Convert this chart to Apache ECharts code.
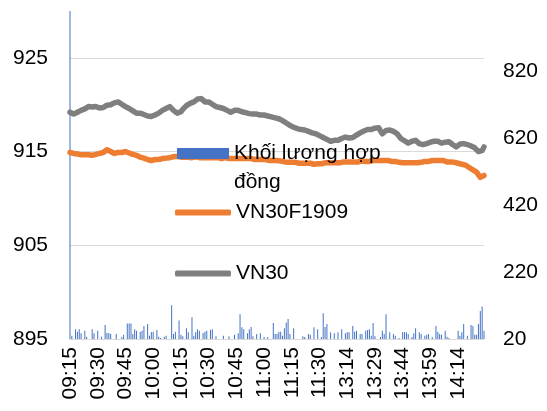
<!DOCTYPE html>
<html>
<head>
<meta charset="utf-8">
<script src="https://cdn.jsdelivr.net/npm/echarts@6/dist/echarts.min.js"></script>
<style>
  html, body { margin: 0; padding: 0; background: #fff; }
  #chart { width: 547px; height: 411px; }
</style>
</head>
<body>
<div id="chart"></div>
<script>
// trading sessions, one point per minute
const sessions = [['09:15', '11:30'], ['13:00', '14:28']]

const vn30 = [
  919.2, 919.1, 919.0, 919.05, 919.2, 919.3, 919.4, 919.6, 919.55, 919.7,
  919.8, 919.7, 919.75, 919.85, 919.8, 919.7, 919.65, 919.6, 919.7, 919.85,
  919.95, 920.05, 920.0, 920.1, 920.2, 920.15, 920.3, 920.2, 920.05, 919.9,
  919.8, 919.7, 919.6, 919.45, 919.35, 919.2, 919.1, 919.15, 919.1, 919.05,
  918.95, 918.85, 918.8, 918.7, 918.75, 918.85, 918.9, 919.0, 919.1, 919.25,
  919.4, 919.5, 919.6, 919.7, 919.8, 919.6, 919.4, 919.2, 919.1, 919.05,
  919.25, 919.5, 919.7, 919.9, 920.0, 920.15, 920.1, 920.3, 920.45, 920.6,
  920.8, 920.65, 920.5, 920.3, 920.4, 920.3, 920.2, 920.05, 919.95, 919.8,
  919.75, 919.7, 919.65, 919.6, 919.5, 919.4, 919.3, 919.2, 919.3, 919.4,
  919.5, 919.4, 919.35, 919.25, 919.2, 919.15, 919.1, 919.05, 919.05, 919.0,
  919.05, 919.0, 918.95, 918.9, 918.95, 918.9, 918.85, 918.8, 918.75, 918.7,
  918.65, 918.6, 918.6, 918.5, 918.4, 918.3, 918.2, 918.05, 917.9, 917.8,
  917.7, 917.6, 917.5, 917.45, 917.4, 917.35, 917.3, 917.3, 917.2, 917.15,
  917.1, 917.0, 916.95, 916.9, 916.85, 916.7, 916.6, 916.5, 916.4, 916.3,
  916.2, 916.1, 916.15, 916.2, 916.25, 916.2, 916.3, 916.4, 916.5, 916.55,
  916.5, 916.45, 916.4, 916.5, 916.6, 916.75, 916.9, 917.0, 917.1, 917.2,
  917.3, 917.35, 917.3, 917.35, 917.4, 917.5, 917.55, 917.55, 917.2, 916.9,
  917.1, 917.25, 917.35, 917.3, 917.2, 917.15, 917.1, 916.9, 916.65, 916.4,
  916.3, 916.15, 916.0, 915.9, 916.0, 916.1, 916.15, 916.2, 916.0, 915.85,
  915.7, 915.75, 915.8, 915.85, 915.9, 916.0, 916.05, 916.1, 916.2, 916.1,
  916.0, 915.9, 915.95, 916.0, 916.05, 916.05, 915.9, 915.75, 915.6, 915.5,
  915.65, 915.8, 915.9, 915.85, 915.8, 915.75, 915.7, 915.6, 915.5, 915.4,
  915.3, 915.0, 914.8, 915.1, 915.5
]

const vn30f1909 = [
  914.9, 914.85, 914.8, 914.75, 914.75, 914.7, 914.65, 914.7, 914.65, 914.6,
  914.65, 914.6, 914.6, 914.65, 914.7, 914.75, 914.8, 914.85, 914.9, 915.05,
  915.2, 915.3, 915.0, 914.85, 914.8, 914.85, 914.9, 914.95, 914.9, 914.95,
  915.0, 914.95, 914.85, 914.8, 914.7, 914.65, 914.6, 914.5, 914.4, 914.35,
  914.3, 914.2, 914.15, 914.1, 914.05, 914.1, 914.15, 914.1, 914.15, 914.2,
  914.25, 914.2, 914.3, 914.3, 914.35, 914.4, 914.45, 914.45, 914.5, 914.45,
  914.4, 914.45, 914.4, 914.35, 914.4, 914.4, 914.35, 914.4, 914.45, 914.4,
  914.35, 914.4, 914.35, 914.3, 914.35, 914.4, 914.35, 914.3, 914.35, 914.3,
  914.35, 914.3, 914.25, 914.3, 914.35, 914.3, 914.25, 914.3, 914.25, 914.3,
  914.25, 914.3, 914.25, 914.2, 914.25, 914.3, 914.25, 914.2, 914.25, 914.2,
  914.15, 914.2, 914.15, 914.1, 914.15, 914.1, 914.15, 914.1, 914.05, 914.1,
  914.05, 914.0, 914.05, 913.95, 914.0, 913.95, 913.9, 913.9, 913.85, 913.9,
  913.85, 913.8, 913.85, 913.8, 913.75, 913.8, 913.75, 913.7, 913.75, 913.7,
  913.75, 913.7, 913.65, 913.7, 913.7, 913.75, 913.7, 913.75, 913.8, 913.75,
  913.8, 913.75, 913.8, 913.85, 913.8, 913.85, 913.8, 913.85, 913.9, 913.85,
  913.9, 913.85, 913.9, 913.95, 913.9, 913.95, 913.9, 913.95, 914.0, 913.95,
  913.95, 914.0, 913.95, 914.0, 914.05, 914.0, 914.05, 914.1, 914.05, 914.0,
  914.05, 914.1, 914.05, 914.0, 913.95, 914.0, 913.95, 913.9, 913.85, 913.85,
  913.8, 913.85, 913.8, 913.75, 913.8, 913.75, 913.8, 913.85, 913.8, 913.8,
  913.85, 913.9, 913.95, 913.9, 913.95, 914.0, 914.05, 914.0, 914.05, 914.1,
  914.05, 914.0, 914.05, 913.95, 913.9, 913.95, 913.9, 913.9, 913.85, 913.8,
  913.75, 913.7, 913.65, 913.6, 913.55, 913.45, 913.3, 913.2, 913.05, 912.9,
  912.8, 912.6, 912.25, 912.3, 912.45
]

const volume = [
  1000, 30, 0, 49, 42, 49, 37, 0, 45, 27,
  0, 0, 49, 37, 0, 45, 0, 27, 0, 62,
  38, 38, 35, 0, 0, 35, 0, 0, 26, 33,
  0, 66, 66, 66, 35, 49, 45, 0, 42, 45,
  59, 0, 65, 30, 41, 42, 0, 47, 27, 23,
  0, 27, 30, 0, 0, 121, 35, 42, 0, 75,
  33, 28, 0, 52, 40, 0, 85, 30, 40, 49,
  45, 0, 38, 42, 45, 0, 47, 49, 0, 28,
  0, 0, 0, 30, 0, 0, 28, 0, 0, 33,
  0, 37, 94, 55, 49, 0, 37, 49, 56, 28,
  0, 35, 0, 37, 0, 26, 0, 26, 0, 0,
  68, 35, 35, 42, 42, 30, 52, 69, 80, 35,
  0, 52, 0, 0, 0, 0, 28, 26, 0, 35,
  33, 0, 55, 0, 49, 0, 26, 97, 56, 65,
  0, 40, 0, 37, 0, 40, 0, 49, 0, 37,
  40, 40, 0, 59, 42, 45, 0, 35, 35, 0,
  45, 47, 49, 30, 68, 28, 0, 0, 26, 45,
  35, 94, 0, 40, 0, 35, 30, 0, 23, 0,
  41, 40, 40, 35, 0, 26, 37, 52, 0, 40,
  35, 0, 30, 33, 35, 0, 26, 0, 59, 42,
  35, 33, 0, 45, 27, 23, 0, 0, 0, 0,
  45, 30, 40, 65, 0, 30, 0, 62, 59, 33,
  33, 65, 104, 117, 45
]

function toMin(s) {
  const p = s.split(':')
  return +p[0] * 60 + +p[1]
}

function pad(n) {
  return (n < 10 ? '0' : '') + n
}

let times = []
sessions.forEach(s => {
  for (let m = toMin(s[0]); m <= toMin(s[1]); m++) {
    times.push(pad(Math.floor(m / 60)) + ':' + pad(m % 60))
  }
})

const font = 'Liberation Sans'
const txt = {fontFamily: font, fontSize: 21, color: '#000'}

let mychart = echarts.init(document.getElementById('chart'), null, {renderer: 'canvas'})

let option = {
  animation: false,
  grid: {
    left: 70,
    right: 63,
    top: 11,
    bottom: 72,
    outerBoundsMode: 'none',
    containLabel: false
  },
  legend: [
    {
      data: ['Khối lượng hợp đồng'],
      left: 177,
      top: 110,
      padding: 0,
      icon: 'rect',
      itemWidth: 52,
      itemHeight: 11,
      // blank first line keeps the icon level with the first text line
      formatter: () => '\nKhối lượng hợp\nđồng',
      textStyle: Object.assign({lineHeight: 29}, txt)
    },
    {
      data: ['VN30F1909'],
      left: 175,
      top: 198,
      padding: 0,
      icon: 'roundRect',
      itemWidth: 56,
      itemHeight: 6,
      textStyle: Object.assign({lineHeight: 29}, txt)
    },
    {
      data: ['VN30'],
      left: 175,
      top: 259,
      padding: 0,
      icon: 'roundRect',
      itemWidth: 56,
      itemHeight: 6,
      textStyle: Object.assign({lineHeight: 29}, txt)
    }
  ],
  xAxis: {
    type: 'category',
    data: times,
    boundaryGap: false,
    axisLine: {lineStyle: {color: '#d9d9d9', width: 1}},
    axisTick: {show: false},
    axisLabel: Object.assign({interval: 14, rotate: 90, margin: 8}, txt),
    splitLine: {show: false}
  },
  yAxis: [
    {
      type: 'value',
      min: 895,
      max: 930,
      interval: 10,
      axisLine: {show: false},
      axisTick: {show: false},
      axisLabel: Object.assign({margin: 22, showMaxLabel: false}, txt),
      splitLine: {showMaxLine: false, lineStyle: {color: '#d9d9d9', width: 1}}
    },
    {
      type: 'value',
      min: 20,
      max: 1000,
      interval: 200,
      axisLine: {show: false},
      axisTick: {show: false},
      axisLabel: Object.assign({margin: 19, showMaxLabel: false}, txt),
      splitLine: {show: false}
    }
  ],
  series: [
    {
      name: 'Khối lượng hợp đồng',
      type: 'bar',
      yAxisIndex: 1,
      data: volume,
      barWidth: 1,
      itemStyle: {color: '#4472c4'}
    },
    {
      name: 'VN30F1909',
      type: 'line',
      data: vn30f1909,
      showSymbol: false,
      symbol: 'none',
      lineStyle: {color: '#ed7d31', width: 5.5, cap: 'round', join: 'round'},
      itemStyle: {color: '#ed7d31'}
    },
    {
      name: 'VN30',
      type: 'line',
      data: vn30,
      showSymbol: false,
      symbol: 'none',
      lineStyle: {color: '#7f7f7f', width: 5.5, cap: 'round', join: 'round'},
      itemStyle: {color: '#7f7f7f'}
    }
  ]
}

mychart.setOption(option)
window.onresize = function () {
  mychart.resize()
}
</script>
</body>
</html>
